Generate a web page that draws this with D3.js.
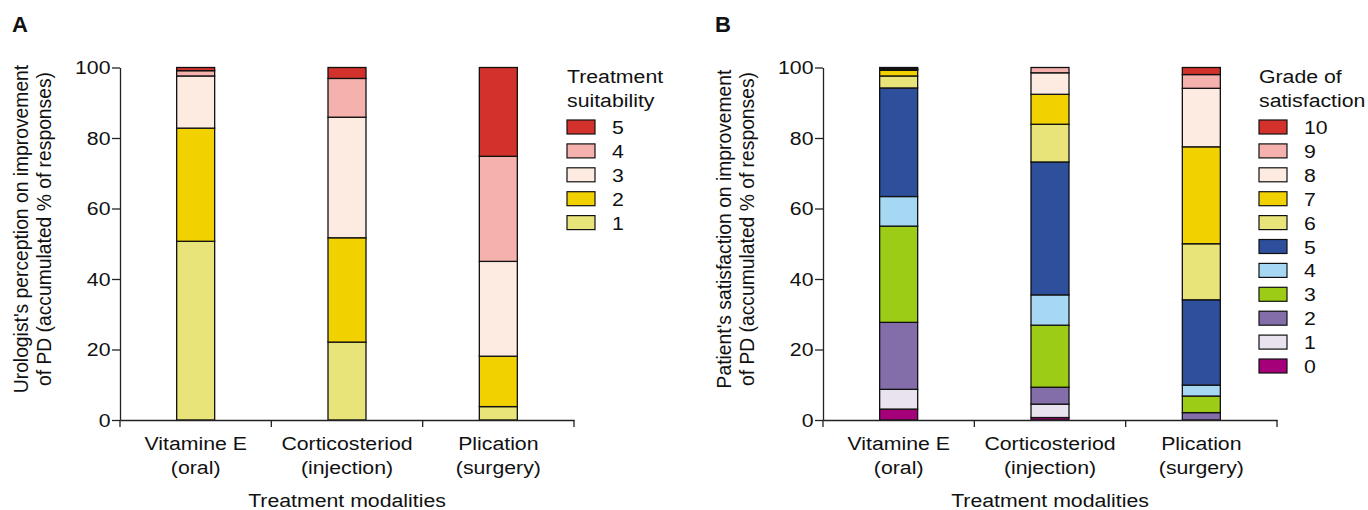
<!DOCTYPE html>
<html><head><meta charset="utf-8">
<script src="https://cdn.jsdelivr.net/npm/d3@7"></script>
<style>
html,body{margin:0;padding:0;background:#fff;}
svg{display:block;}
text{font-family:"Liberation Sans",Arial,sans-serif;fill:#111;}
</style></head>
<body>
<svg id="chart" width="1368" height="510"></svg>
<script>
// ---------- data ----------
const catLine1 = ["Vitamine E", "Corticosteriod", "Plication"];
const catLine2 = ["(oral)", "(injection)", "(surgery)"];
const yTicks = [0, 20, 40, 60, 80, 100];

const suitKeys = ["1", "2", "3", "4", "5"];
const suitColors = ["#e8e47a", "#f2d100", "#fdebe2", "#f5b1ad", "#d2322b"];
const suitVitE = [50.7, 32.1, 14.8, 1.5, 0.9];
const suitCort = [22.1, 29.6, 34.2, 11.0, 3.1];
const suitPlic = [3.8, 14.3, 26.9, 29.8, 25.2];

const gradeKeys = ["0", "1", "2", "3", "4", "5", "6", "7", "8", "9", "10"];
const gradeColors = ["#a5007a", "#e8e3ee", "#836ea9", "#9ccc15", "#a7d8f3", "#2d4f9c",
                     "#e8e47a", "#f2d100", "#fdebe2", "#f5b1ad", "#d2322b"];
const gradeVitE = [3.1, 5.6, 19.0, 27.3, 8.4, 30.8, 3.4, 1.6, 0.3, 0.2, 0.3];
const gradeCort = [0.7, 3.8, 4.8, 17.6, 8.6, 37.7, 10.7, 8.5, 6.1, 1.5, 0];
const gradePlic = [0, 0, 2.1, 4.7, 3.1, 24.2, 15.9, 27.5, 16.6, 3.9, 2.0];

// ---------- drawing ----------
const svg = d3.select("#chart");
const SX = 1.12;      // horizontal stretch of the original figure's text
const FS = 19;

function stext(g, x, y, str, anchor, size) {
  return g.append("text")
    .attr("transform", `translate(${x},${y}) scale(${SX},1)`)
    .attr("text-anchor", anchor || "start")
    .style("font-size", (size || FS) + "px")
    .text(str);
}

function panel(opts) {
  const ox = opts.ox;
  const g = svg.append("g").attr("transform", `translate(${ox},0)`);
  const x0 = 120, x1 = 574, yT = 67.5, yB = 420;
  const x = d3.scaleBand().domain(catLine1).range([x0, x1]).padding(0);
  const y = d3.scaleLinear().domain([0, 100]).range([yB, yT]);
  const barW = 38;

  const rows = catLine1.map((c, i) => {
    const o = { cat: c };
    opts.keys.forEach((k, j) => o[k] = opts.series[i][j]);
    return o;
  });
  const stacked = d3.stack().keys(opts.keys)(rows);
  const color = d3.scaleOrdinal().domain(opts.keys).range(opts.colors);

  stacked.forEach(layer => {
    g.append("g").selectAll("rect")
      .data(layer.filter(d => d[1] - d[0] > 0))
      .join("rect")
      .attr("x", d => x(d.data.cat) + x.bandwidth() / 2 - barW / 2)
      .attr("width", barW)
      .attr("y", d => y(d[1]))
      .attr("height", d => y(d[0]) - y(d[1]))
      .attr("fill", color(layer.key))
      .attr("stroke", "#111")
      .attr("stroke-width", 1.3);
  });

  // y axis
  const ya = g.append("g").attr("transform", `translate(${x0},0)`)
    .call(d3.axisLeft(y).tickValues(yTicks).tickSize(8).tickSizeOuter(0));
  ya.select(".domain").attr("stroke", "#222").attr("stroke-width", 1.3);
  ya.selectAll(".tick line").attr("stroke", "#222").attr("stroke-width", 1.3);
  ya.selectAll(".tick text")
    .attr("x", -9.5 / SX).attr("transform", `scale(${SX},1)`)
    .style("font-size", FS + "px").attr("font-family", null);
  ya.attr("font-family", null).attr("font-size", null);

  // x axis
  const xa = g.append("g").attr("transform", `translate(0,${yB})`)
    .call(d3.axisBottom(x).tickSize(0).tickFormat(""));
  xa.select(".domain").attr("stroke", "#222").attr("stroke-width", 1.3);
  const bounds = catLine1.map(c => x(c)).concat([x.range()[1]]);
  xa.selectAll(".bnd").data(bounds).join("line").attr("class", "bnd")
    .attr("x1", d => d).attr("x2", d => d).attr("y1", 0).attr("y2", 7)
    .attr("stroke", "#222").attr("stroke-width", 1.3);
  catLine1.forEach((c, i) => {
    const cx = x(c) + x.bandwidth() / 2;
    stext(g, cx, 450, c, "middle");
    stext(g, cx, 474, catLine2[i], "middle");
  });
  stext(g, (x0 + x1) / 2, 507, "Treatment modalities", "middle");

  // y title
  const yc = 229;
  g.append("text").attr("transform", `translate(28,${yc}) rotate(-90)`)
    .attr("text-anchor", "middle").style("font-size", "19.3px").text(opts.yt1);
  g.append("text").attr("transform", `translate(51,${yc}) rotate(-90)`)
    .attr("text-anchor", "middle").style("font-size", "19.3px").text(opts.yt2);

  // panel letter
  g.append("text").attr("x", 12).attr("y", 32)
    .style("font-family", "'Liberation Sans Narrow','Liberation Sans',Arial,sans-serif")
    .style("font-weight", "bold").style("font-size", "22px").text(opts.letter);

  // legend
  const lx = opts.lx;
  stext(g, lx, 83, opts.lt1, "start");
  stext(g, lx, 107, opts.lt2, "start");
  const legKeys = opts.keys.slice().reverse();
  const step = 23.9;
  legKeys.forEach((k, i) => {
    const cy = 127 + i * step;
    g.append("rect").attr("x", lx).attr("y", cy - 7).attr("width", 28).attr("height", 14)
      .attr("fill", color(k)).attr("stroke", "#111").attr("stroke-width", 1.2);
    stext(g, lx + 45, cy + 7, k, "start");
  });
}

panel({ ox: 0, letter: "A", keys: suitKeys, colors: suitColors,
  series: [suitVitE, suitCort, suitPlic],
  yt1: "Urologist's perception on improvement",
  yt2: "of PD (accumulated % of responses)",
  lt1: "Treatment", lt2: "suitability", lx: 567 });

panel({ ox: 703, letter: "B", keys: gradeKeys, colors: gradeColors,
  series: [gradeVitE, gradeCort, gradePlic],
  yt1: "Patient's satisfaction on improvement",
  yt2: "of PD (accumulated % of responses)",
  lt1: "Grade of", lt2: "satisfaction", lx: 556 });
</script>
</body></html>
